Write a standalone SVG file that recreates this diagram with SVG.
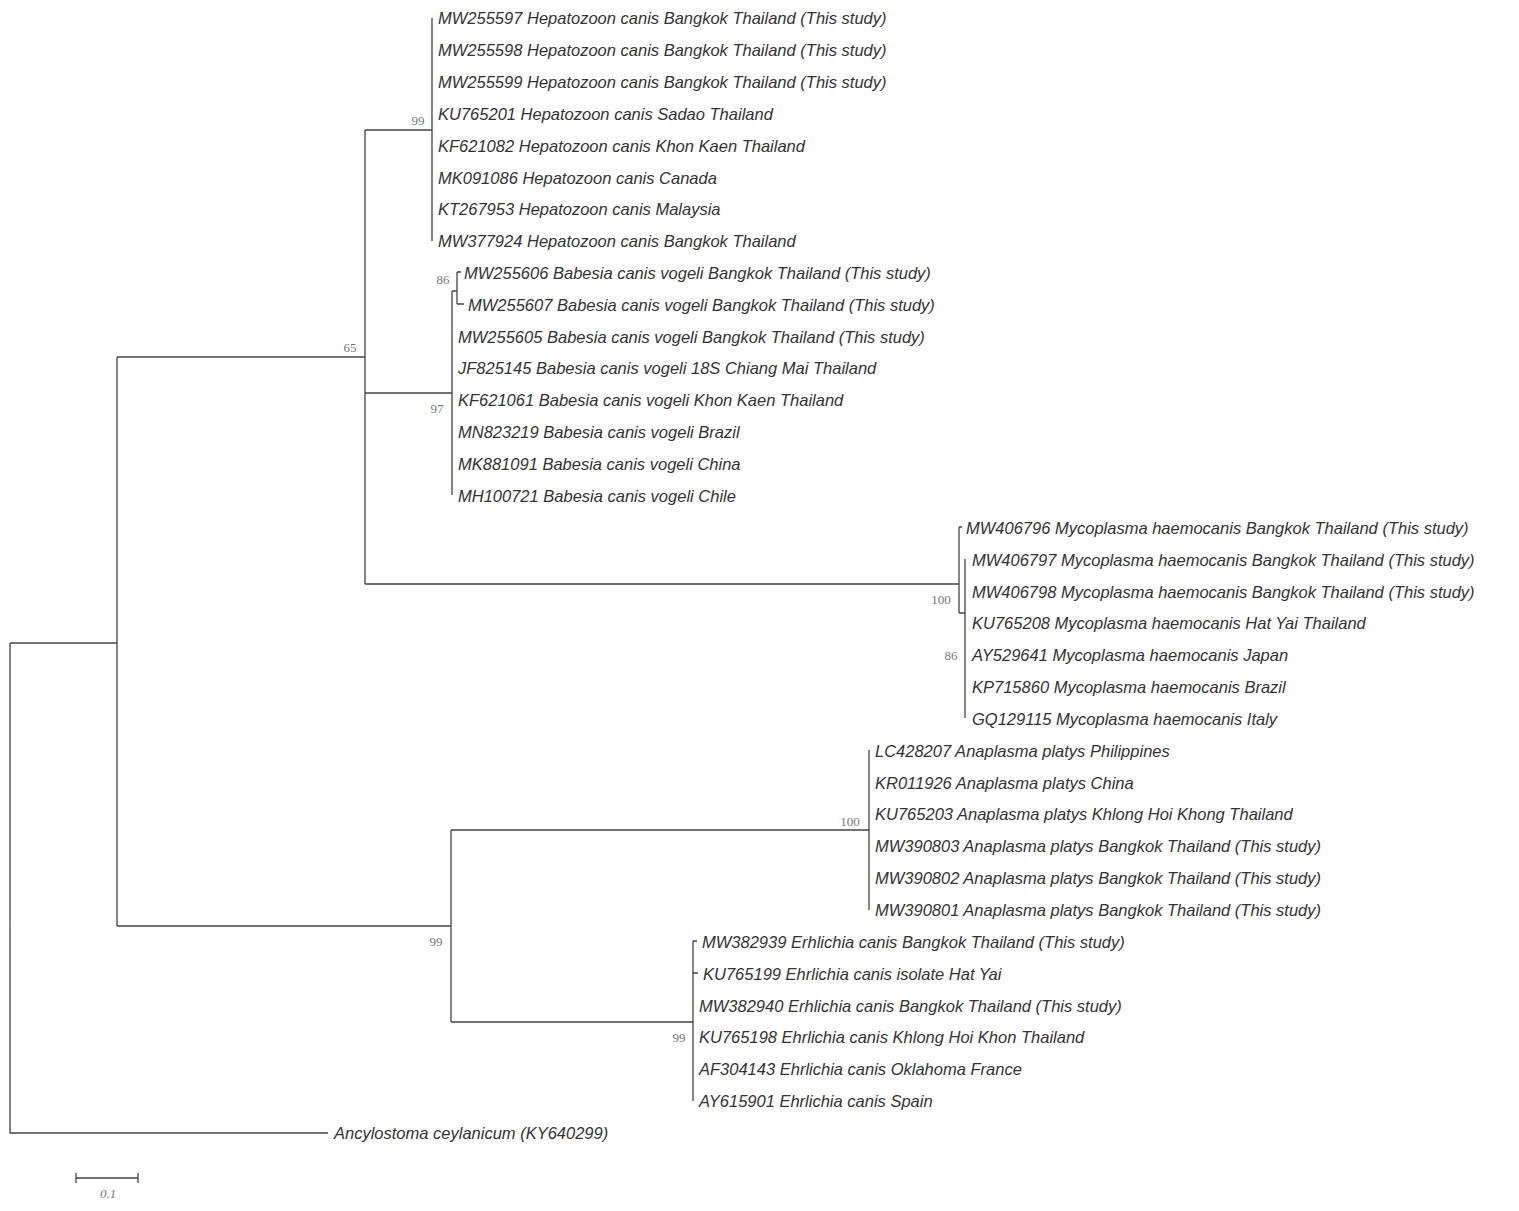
<svg xmlns="http://www.w3.org/2000/svg" width="1519" height="1211" viewBox="0 0 1519 1211">
<style>
.l{font-family:"Liberation Sans",Arial,sans-serif;font-style:italic;font-size:16.5px;fill:#333}
.b{font-family:"Liberation Serif","DejaVu Serif",serif;font-size:13px;fill:#777;text-anchor:middle}
.e{stroke:#444;stroke-width:1.3;fill:none}
</style>
<rect width="1519" height="1211" fill="#fff"/>
<g id="connectors" class="e">
<path d="M10 643V1133H328M10 643H117M117 357V926M117 357H365M365 130V584M365 130H432M432 18V241M365 393H452M452 291V495M452 291H457M457 272V304M457 272H461M457 304H464M365 584H959M959 527V613M959 527H962M959 613H965M965 559V718M117 926H451M451 830V1022M451 830H869M869 750V910M451 1022H693M693 941V1101M693 941H697M693 973H698"/>
</g>
<g id="bootstrap">
<text class="b" x="418" y="125">99</text>
<text class="b" x="350" y="352">65</text>
<text class="b" x="443" y="284">86</text>
<text class="b" x="437" y="413">97</text>
<text class="b" x="941" y="604">100</text>
<text class="b" x="951" y="660">86</text>
<text class="b" x="850" y="826">100</text>
<text class="b" x="436" y="946">99</text>
<text class="b" x="679" y="1042">99</text>
</g>
<g id="leaves" class="l">
<text x="438" y="24">MW255597 Hepatozoon canis Bangkok Thailand (This study)</text>
<text x="438" y="56">MW255598 Hepatozoon canis Bangkok Thailand (This study)</text>
<text x="438" y="88">MW255599 Hepatozoon canis Bangkok Thailand (This study)</text>
<text x="438" y="120">KU765201 Hepatozoon canis Sadao Thailand</text>
<text x="438" y="152">KF621082 Hepatozoon canis Khon Kaen Thailand</text>
<text x="438" y="184">MK091086 Hepatozoon canis Canada</text>
<text x="438" y="215">KT267953 Hepatozoon canis Malaysia</text>
<text x="438" y="247">MW377924 Hepatozoon canis Bangkok Thailand</text>
<text x="464" y="279">MW255606 Babesia canis vogeli Bangkok Thailand (This study)</text>
<text x="468" y="311">MW255607 Babesia canis vogeli Bangkok Thailand (This study)</text>
<text x="458" y="343">MW255605 Babesia canis vogeli Bangkok Thailand (This study)</text>
<text x="458" y="374">JF825145 Babesia canis vogeli 18S Chiang Mai Thailand</text>
<text x="458" y="406">KF621061 Babesia canis vogeli Khon Kaen Thailand</text>
<text x="458" y="438">MN823219 Babesia canis vogeli Brazil</text>
<text x="458" y="470">MK881091 Babesia canis vogeli China</text>
<text x="458" y="502">MH100721 Babesia canis vogeli Chile</text>
<text x="966" y="534">MW406796 Mycoplasma haemocanis Bangkok Thailand (This study)</text>
<text x="972" y="566">MW406797 Mycoplasma haemocanis Bangkok Thailand (This study)</text>
<text x="972" y="598">MW406798 Mycoplasma haemocanis Bangkok Thailand (This study)</text>
<text x="972" y="629">KU765208 Mycoplasma haemocanis Hat Yai Thailand</text>
<text x="972" y="661">AY529641 Mycoplasma haemocanis Japan</text>
<text x="972" y="693">KP715860 Mycoplasma haemocanis Brazil</text>
<text x="972" y="725">GQ129115 Mycoplasma haemocanis Italy</text>
<text x="875" y="757">LC428207 Anaplasma platys Philippines</text>
<text x="875" y="789">KR011926 Anaplasma platys China</text>
<text x="875" y="820">KU765203 Anaplasma platys Khlong Hoi Khong Thailand</text>
<text x="875" y="852">MW390803 Anaplasma platys Bangkok Thailand (This study)</text>
<text x="875" y="884">MW390802 Anaplasma platys Bangkok Thailand (This study)</text>
<text x="875" y="916">MW390801 Anaplasma platys Bangkok Thailand (This study)</text>
<text x="702" y="948">MW382939 Erhlichia canis Bangkok Thailand (This study)</text>
<text x="703" y="980">KU765199 Ehrlichia canis isolate Hat Yai</text>
<text x="699" y="1012">MW382940 Erhlichia canis Bangkok Thailand (This study)</text>
<text x="699" y="1043">KU765198 Ehrlichia canis Khlong Hoi Khon Thailand</text>
<text x="699" y="1075">AF304143 Ehrlichia canis Oklahoma France</text>
<text x="699" y="1107">AY615901 Ehrlichia canis Spain</text>
<text x="334" y="1139">Ancylostoma ceylanicum (KY640299)</text>
</g>
<g id="scale">
<path class="e" d="M76 1178H138M76 1173V1183M138 1173V1183"/>
<text x="108" y="1198" style="font-family:'Liberation Serif',serif;font-style:italic;font-size:13px;fill:#777;text-anchor:middle">0.1</text>
</g>
</svg>
